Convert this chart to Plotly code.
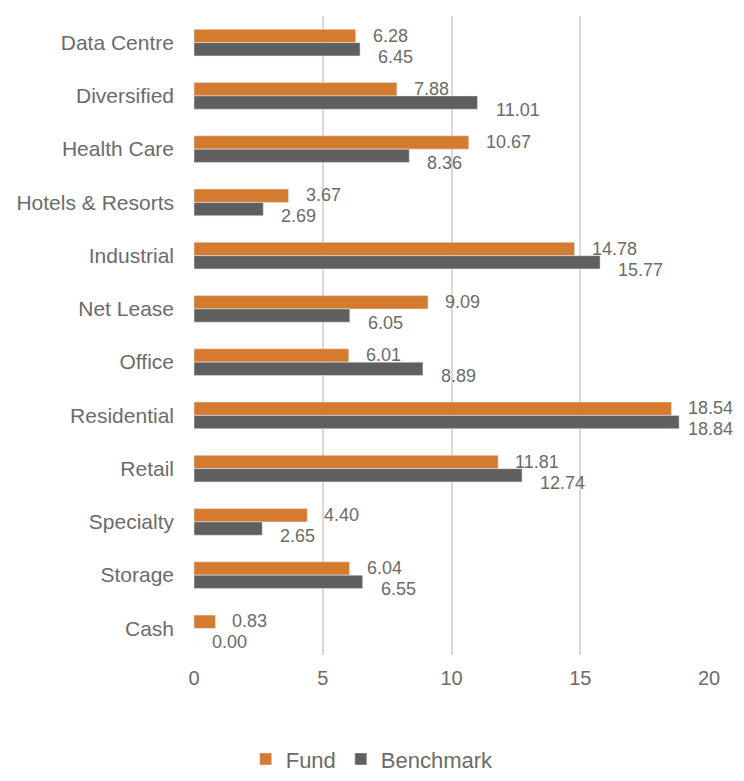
import plotly.graph_objects as go

categories = ["Data Centre", "Diversified", "Health Care", "Hotels & Resorts", "Industrial",
              "Net Lease", "Office", "Residential", "Retail", "Specialty", "Storage", "Cash"]
fund = [6.28, 7.88, 10.67, 3.67, 14.78, 9.09, 6.01, 18.54, 11.81, 4.40, 6.04, 0.83]
benchmark = [6.45, 11.01, 8.36, 2.69, 15.77, 6.05, 8.89, 18.84, 12.74, 2.65, 6.55, 0.00]
x_ticks = [0, 5, 10, 15, 20]

FUND_COLOR = "#D57B30"
BENCH_COLOR = "#5F5F5F"
TEXT_COLOR = "#6B6B6B"
FONT = "Liberation Sans, Arial, sans-serif"

PLOT_W = 515  # plot area width in px
X_MAX = 20

fig = go.Figure()
fig.add_trace(go.Bar(y=categories, x=fund, name="Fund", orientation="h",
                     marker=dict(color=FUND_COLOR)))
fig.add_trace(go.Bar(y=categories, x=benchmark, name="Benchmark", orientation="h",
                     marker=dict(color=BENCH_COLOR)))


def label_shift(v, base):
    # keep labels inside the chart area near the right edge (as Excel does)
    room = PLOT_W * (1 - v / X_MAX) + 20 - 43
    return max(4, min(base, room))


annotations = []
for c, v in zip(categories, fund):
    annotations.append(dict(x=v, y=c, xref="x", yref="y", text=f"{v:.2f}", showarrow=False,
                            xanchor="left", yanchor="middle", xshift=label_shift(v, 15), yshift=7,
                            font=dict(family=FONT, size=18, color=TEXT_COLOR)))
for c, v in zip(categories, benchmark):
    annotations.append(dict(x=v, y=c, xref="x", yref="y", text=f"{v:.2f}", showarrow=False,
                            xanchor="left", yanchor="middle", xshift=label_shift(v, 16), yshift=-14,
                            font=dict(family=FONT, size=18, color=TEXT_COLOR)))

fig.update_layout(
    width=728, height=765,
    barmode="group", bargap=0.5, bargroupgap=0,
    plot_bgcolor="white", paper_bgcolor="white",
    margin=dict(l=186, r=27, t=8, b=118, autoexpand=False),
    font=dict(family=FONT, color=TEXT_COLOR),
    annotations=annotations,
    legend=dict(orientation="h", x=0.346, xanchor="center", y=-0.163, yanchor="middle",
                font=dict(family=FONT, size=22, color=TEXT_COLOR), traceorder="normal",
                itemwidth=30),
    xaxis=dict(range=[0, X_MAX], tickvals=x_ticks, showgrid=True, gridcolor="#D9D9D9", gridwidth=1.5,
               zeroline=False, showline=False, ticks="", automargin=False,
               ticklabelstandoff=9,
               tickfont=dict(family=FONT, size=20, color=TEXT_COLOR)),
    yaxis=dict(autorange="reversed", showgrid=False, zeroline=False, showline=False, ticks="",
               automargin=False, ticklabelstandoff=19,
               tickfont=dict(family=FONT, size=21, color=TEXT_COLOR)),
)

fig.write_html("out.html")
